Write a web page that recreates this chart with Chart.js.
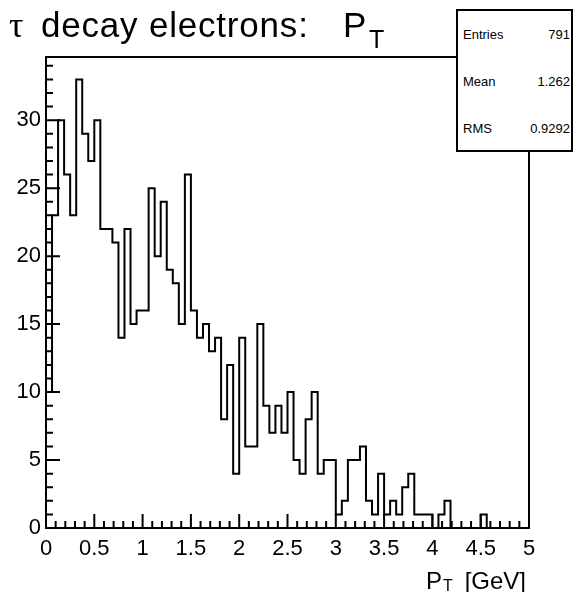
<!DOCTYPE html>
<html>
<head>
<meta charset="utf-8">
<script src="https://cdn.jsdelivr.net/npm/chart.js@4/dist/chart.umd.min.js"></script>
<style>
html,body{margin:0;padding:0;background:#fff;}
#wrap{position:relative;width:573px;height:592px;overflow:hidden;font-family:"Liberation Sans",Arial,Helvetica,sans-serif;color:#000;}
#c{position:absolute;left:0;top:0;}
.t{position:absolute;line-height:1;white-space:nowrap;}
#stats{position:absolute;left:456px;top:9px;width:117px;height:143px;border:2px solid #000;background:#fff;box-sizing:border-box;}
</style>
</head>
<body>
<div id="wrap">
  <canvas id="c" width="573" height="592"></canvas>
  <span class="t" style="font-family:'Liberation Serif',serif;font-size:36px;left:9px;top:7px;">τ</span>
  <span class="t" style="font-size:35px;left:41px;top:7.4px;letter-spacing:0.8px;">decay electrons:</span>
  <span class="t" style="font-size:35px;left:343px;top:7.4px;">P</span>
  <span class="t" style="font-size:25px;left:369px;top:27px;">T</span>
  <div id="stats"></div>
  <span class="t" style="font-size:13px;left:463px;top:27.7px;">Entries</span>
  <span class="t" style="font-size:13px;right:3px;top:27.7px;">791</span>
  <span class="t" style="font-size:13px;left:463px;top:75px;">Mean</span>
  <span class="t" style="font-size:13px;right:3px;top:75px;">1.262</span>
  <span class="t" style="font-size:13px;left:463px;top:122px;">RMS</span>
  <span class="t" style="font-size:13px;right:3px;top:122px;">0.9292</span>
  <span class="t" style="font-size:24px;left:426px;top:568.7px;">P</span>
  <span class="t" style="font-size:16px;left:443px;top:577.5px;">T</span>
  <span class="t" style="font-size:24px;right:47px;top:568.7px;">[GeV]</span>
</div>
<script>
// ---- data (80 bins, 0 - 5 GeV) ----
const xMin = 0;
const xMax = 5;
const binWidth = 0.0625;
const counts = [
  10, 23, 30, 26, 23, 33, 29, 27, 30, 22,
  22, 21, 14, 22, 15, 16, 16, 25, 20, 24,
  19, 18, 15, 26, 16, 14, 15, 13, 14, 8,
  12, 4, 14, 6, 6, 15, 9, 7, 9, 7,
  10, 5, 4, 8, 10, 4, 5, 5, 1, 2,
  5, 5, 6, 2, 1, 4, 1, 2, 1, 3,
  4, 1, 1, 1, 0, 1, 2, 0, 0, 0,
  0, 0, 1, 0, 0, 0, 0, 0, 0, 0
];
const yMax = 34.65;
const xTickLabels = ['0', '0.5', '1', '1.5', '2', '2.5', '3', '3.5', '4', '4.5', '5'];
const yTickLabels = ['0', '5', '10', '15', '20', '25', '30'];
const xMajorStep = 0.5, xMinorPerMajor = 5;
const yMajorStep = 5, yMinorPerMajor = 5;

// outline points: left and right corner of every bin
const outline = [{x: xMin, y: 0}];
counts.forEach((c, i) => {
  outline.push({x: xMin + i * binWidth, y: c});
  outline.push({x: xMin + (i + 1) * binWidth, y: c});
});
outline.push({x: xMax, y: 0});

const FONT = '"Liberation Sans", Arial, Helvetica, sans-serif';

const rootFrame = {
  id: 'rootFrame',
  afterDraw(chart) {
    const {ctx, chartArea: a, scales} = chart;
    const xs = scales.x, ys = scales.y;
    ctx.save();
    ctx.strokeStyle = '#000';
    ctx.lineWidth = 2;
    ctx.strokeRect(a.left, a.top, a.right - a.left, a.bottom - a.top);
    ctx.beginPath();
    const xMinor = xMajorStep / xMinorPerMajor;
    const nx = Math.round((xMax - xMin) / xMinor);
    for (let i = 0; i <= nx; i++) {
      const px = xs.getPixelForValue(xMin + i * xMinor);
      const len = (i % xMinorPerMajor === 0) ? 14 : 7;
      ctx.moveTo(px, a.bottom);
      ctx.lineTo(px, a.bottom - len);
    }
    const yMinor = yMajorStep / yMinorPerMajor;
    const ny = Math.floor(yMax / yMinor);
    for (let i = 0; i <= ny; i++) {
      const py = ys.getPixelForValue(i * yMinor);
      const len = (i % yMinorPerMajor === 0) ? 14 : 7;
      ctx.moveTo(a.left, py);
      ctx.lineTo(a.left + len, py);
    }
    ctx.stroke();
    ctx.restore();
  }
};

new Chart(document.getElementById('c'), {
  type: 'line',
  data: {
    datasets: [{
      data: outline,
      borderColor: '#000',
      borderWidth: 2,
      pointRadius: 0,
      fill: false,
      tension: 0
    }]
  },
  options: {
    responsive: false,
    animation: false,
    devicePixelRatio: 1,
    layout: {padding: {top: 57, right: 44, left: 0, bottom: 0}},
    plugins: {legend: {display: false}, tooltip: {enabled: false}, title: {display: false}},
    scales: {
      x: {
        type: 'linear', min: xMin, max: xMax,
        grid: {display: false, drawTicks: false},
        border: {display: false},
        ticks: {
          stepSize: xMajorStep, autoSkip: false, maxRotation: 0, includeBounds: false,
          color: '#000', padding: 8, font: {family: FONT, size: 22},
          callback: (v, i) => xTickLabels[i]
        },
        afterFit: s => { s.height = 64; }
      },
      y: {
        type: 'linear', min: 0, max: yMax,
        grid: {display: false, drawTicks: false},
        border: {display: false},
        ticks: {
          stepSize: yMajorStep, autoSkip: false, includeBounds: false,
          color: '#000', padding: 5, font: {family: FONT, size: 22},
          callback: (v, i) => yTickLabels[i]
        },
        afterFit: s => { s.width = 46; }
      }
    }
  },
  plugins: [rootFrame]
});
</script>
</body>
</html>
